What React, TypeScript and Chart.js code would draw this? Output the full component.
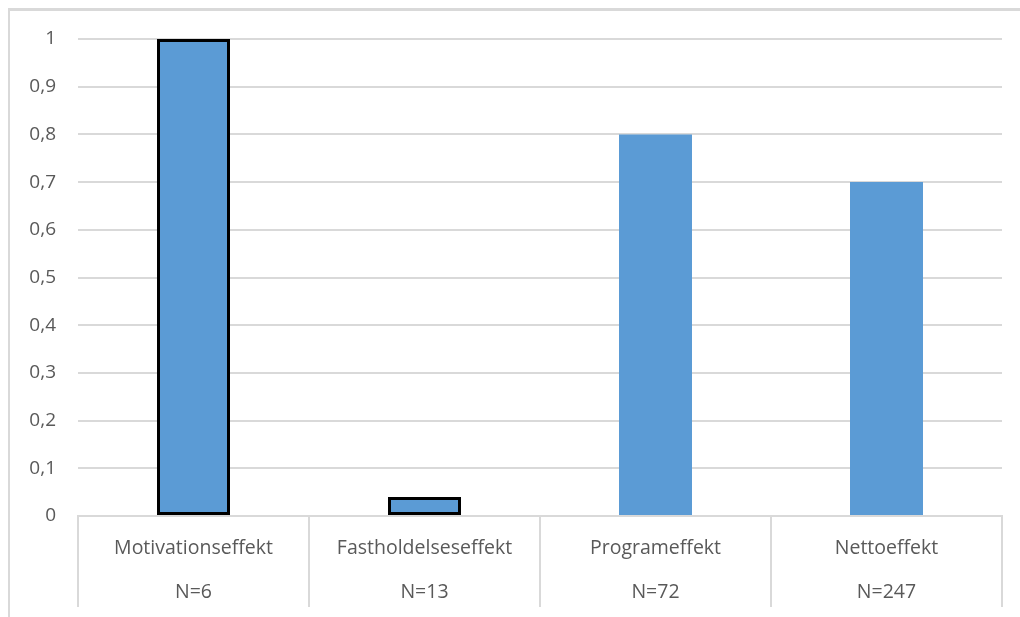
import React, { useEffect, useRef } from "react";
import { Chart, registerables } from "chart.js";

Chart.register(...registerables);

const categories = ["Motivationseffekt", "Fastholdelseseffekt", "Programeffekt", "Nettoeffekt"];
const sampleSizes = ["N=6", "N=13", "N=72", "N=247"];
const values = [1, 0.04, 0.8, 0.7];
const outlined = [true, true, false, false];

const dividerPlugin = {
  id: "dividers",
  afterDraw(chart: any) {
    const x = chart.scales.x;
    const area = chart.chartArea;
    const ctx = chart.ctx;
    const n = chart.data.labels.length;
    ctx.save();
    ctx.strokeStyle = "#d9d9d9";
    ctx.lineWidth = 2;
    for (let i = 0; i <= n; i++) {
      const px = i === 0 ? area.left : i === n ? area.right : (x.getPixelForValue(i - 1) + x.getPixelForValue(i)) / 2;
      ctx.beginPath();
      ctx.moveTo(px, area.bottom);
      ctx.lineTo(px, area.bottom + 91);
      ctx.stroke();
    }
    ctx.restore();
  },
};

export default function App() {
  const ref = useRef<HTMLCanvasElement>(null);
  useEffect(() => {
    const chart = new Chart(ref.current!, {
      type: "bar",
      data: {
        labels: categories.map((c, i) => [c, "", sampleSizes[i]]),
        datasets: [
          {
            data: values,
            backgroundColor: "#5b9bd5",
            borderColor: "#000000",
            borderWidth: outlined.map((o) => (o ? 3 : 0)),
            borderSkipped: false,
            categoryPercentage: 1,
            barPercentage: 0.316,
          },
        ],
      },
      options: {
        animation: false,
        responsive: false,
        devicePixelRatio: 1,
        layout: { padding: { left: 8, right: 18, top: 39, bottom: 0 } },
        plugins: { legend: { display: false }, tooltip: { enabled: false }, title: { display: false } },
        scales: {
          x: {
            afterFit: (s: any) => {
              s.height = 101;
            },
            grid: { display: false, drawTicks: false },
            border: { display: true, color: "#d9d9d9", width: 2 },
            ticks: {
              color: "#595959",
              font: { family: "Open Sans", size: 19.5, lineHeight: "22px" },
              padding: 21,
              maxRotation: 0,
              autoSkip: false,
            },
          },
          y: {
            min: 0,
            max: 1,
            afterFit: (s: any) => {
              s.width = 70;
            },
            grid: { color: "#d9d9d9", lineWidth: 2, drawTicks: false },
            border: { display: false },
            ticks: {
              stepSize: 0.1,
              color: "#595959",
              font: { family: "Open Sans", size: 19 },
              padding: 22,
              callback: (v: any) => String(Math.round(Number(v) * 10) / 10).replace(".", ","),
            },
          },
        },
      },
      plugins: [dividerPlugin],
    });
    return () => chart.destroy();
  }, []);
  return (
    <>
      <div
        style={{
          position: "fixed",
          left: 8,
          top: 8,
          width: 1012,
          height: 609,
          borderTop: "3px solid #d9d9d9",
          borderLeft: "2px solid #d9d9d9",
          boxSizing: "border-box",
          background: "#fff",
        }}
      />
      <canvas
        ref={ref}
        width={1020}
        height={617}
        style={{ position: "fixed", left: 0, top: 0, width: 1020, height: 617 }}
      />
    </>
  );
}
